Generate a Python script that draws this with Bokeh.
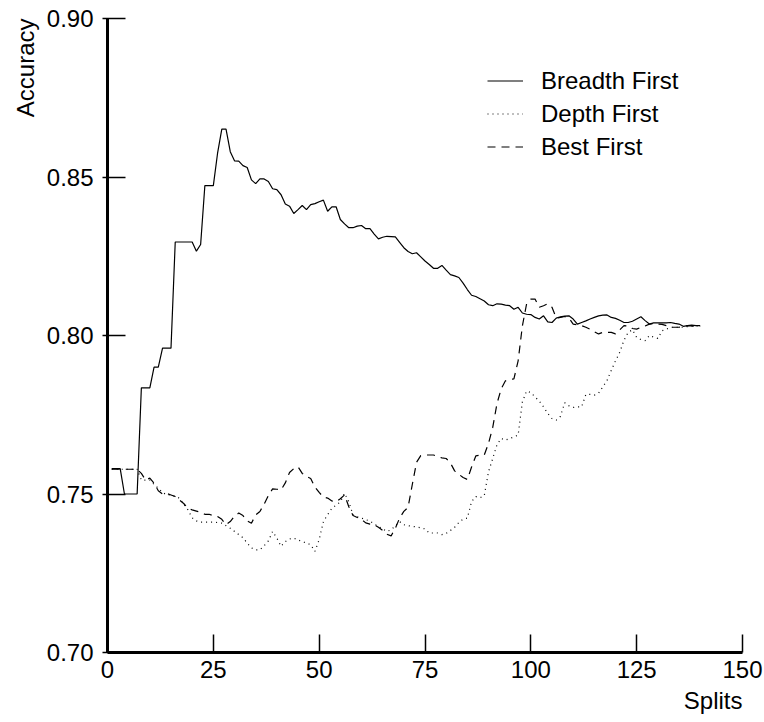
from bokeh.plotting import figure
from bokeh.models import Legend, LegendItem, FixedTicker, Range1d, Title
from bokeh.embed import file_html
from bokeh.resources import INLINE

splits = list(range(1, 141))

breadth_first = [
    0.758, 0.758, 0.758, 0.750, 0.750, 0.750, 0.750, 0.7835, 0.7835, 0.7835,
    0.790, 0.790, 0.796, 0.796, 0.796, 0.8295, 0.8295, 0.8295, 0.8295, 0.8295,
    0.8266, 0.8287, 0.8473, 0.8473, 0.8473, 0.8575, 0.8651, 0.8651, 0.858, 0.8551,
    0.855, 0.8536, 0.853, 0.8491, 0.8479, 0.8494, 0.8494, 0.8486, 0.8463, 0.846,
    0.8444, 0.8415, 0.8408, 0.8385, 0.8397, 0.841, 0.8397, 0.8413, 0.8416, 0.8422,
    0.8427, 0.8392, 0.8406, 0.8406, 0.8366, 0.8352, 0.834, 0.834, 0.8345, 0.8347,
    0.8337, 0.8337, 0.832, 0.8305, 0.831, 0.8313, 0.8312, 0.8311, 0.8294, 0.8277,
    0.8265, 0.8258, 0.8261, 0.8248, 0.8235, 0.8224, 0.8212, 0.8212, 0.8221, 0.8206,
    0.8192, 0.8188, 0.8183, 0.8165, 0.8145, 0.8127, 0.8123, 0.8116, 0.8109, 0.8097,
    0.8094, 0.810, 0.8099, 0.8096, 0.8094, 0.8083, 0.8089, 0.8071, 0.8067, 0.8066,
    0.8057, 0.8052, 0.8062, 0.8043, 0.8041, 0.8055, 0.8059, 0.8061, 0.8062, 0.8052,
    0.8036, 0.8041, 0.8046, 0.8052, 0.8057, 0.8062, 0.8064, 0.8065, 0.8057, 0.8054,
    0.8048, 0.8041, 0.8041, 0.8045, 0.8052, 0.8059, 0.8047, 0.8036, 0.804, 0.804,
    0.804, 0.804, 0.8041, 0.8038, 0.8036, 0.8029, 0.8031, 0.8033, 0.8031, 0.8031,
]

depth_first = [
    0.7578, 0.7578, 0.7578, 0.7578, 0.7578, 0.7578, 0.7578, 0.7544, 0.7544, 0.7544,
    0.753, 0.7518, 0.7505, 0.7497, 0.7497, 0.7492, 0.7487, 0.7468, 0.745, 0.7425,
    0.7415, 0.7411, 0.7411, 0.7411, 0.7411, 0.741, 0.7408, 0.74, 0.7392, 0.7382,
    0.7372, 0.7362, 0.7345, 0.733, 0.7324, 0.7324, 0.7337, 0.7352, 0.7382, 0.7361,
    0.7335, 0.735, 0.7358, 0.7361, 0.7355, 0.735, 0.7345, 0.734, 0.7319, 0.7356,
    0.7413, 0.7435, 0.7455, 0.7465, 0.7475, 0.7502, 0.7476, 0.7434, 0.7428, 0.7424,
    0.7419, 0.7415, 0.7405, 0.7398, 0.739, 0.7382, 0.7387, 0.74, 0.7413, 0.7403,
    0.74, 0.7398, 0.7396, 0.7393, 0.739, 0.7377, 0.7377, 0.7377, 0.7372, 0.7376,
    0.7385, 0.7395, 0.741, 0.7421, 0.7424, 0.7476, 0.7492, 0.7488, 0.7495, 0.757,
    0.7612, 0.7655, 0.7675, 0.767, 0.7675, 0.768, 0.7686, 0.779, 0.7825, 0.782,
    0.7806, 0.7793, 0.7775, 0.7754, 0.7738, 0.7733, 0.7745, 0.7788, 0.7778, 0.7773,
    0.7775, 0.7775, 0.7814, 0.7814, 0.7812, 0.7818, 0.7838, 0.7858, 0.789, 0.792,
    0.7947, 0.7985, 0.801, 0.8018, 0.7994, 0.7987, 0.7984, 0.80, 0.7995, 0.7991,
    0.8015, 0.802, 0.8026, 0.8026, 0.8026, 0.8026, 0.8028, 0.8029, 0.803, 0.803,
]

best_first = [
    0.7578, 0.7578, 0.7578, 0.7578, 0.7578, 0.7578, 0.7578, 0.7565, 0.7544, 0.755,
    0.7534, 0.751, 0.75, 0.7502, 0.7497, 0.7492, 0.7481, 0.747, 0.7455, 0.745,
    0.7446, 0.7442, 0.7436, 0.7436, 0.7432, 0.7429, 0.742, 0.7403, 0.7413, 0.743,
    0.744, 0.7432, 0.7415, 0.7408, 0.7434, 0.7445, 0.7468, 0.7495, 0.7516, 0.7515,
    0.7513, 0.7535, 0.7568, 0.758, 0.7586, 0.7565, 0.7555, 0.7549, 0.7522, 0.7505,
    0.749, 0.7487, 0.7478, 0.7475, 0.7485, 0.7497, 0.746, 0.7432, 0.7426, 0.742,
    0.7409, 0.7405, 0.7403, 0.7395, 0.7385, 0.7373, 0.7368, 0.7392, 0.7424, 0.7445,
    0.7458, 0.753, 0.76, 0.7621, 0.7623, 0.7623, 0.7623, 0.7618, 0.7614, 0.7612,
    0.7598, 0.7573, 0.7562, 0.7552, 0.7546, 0.7585, 0.762, 0.7623, 0.7623, 0.766,
    0.771, 0.7785, 0.7832, 0.7857, 0.7861, 0.7863, 0.792, 0.803, 0.81, 0.8115,
    0.8115, 0.8089, 0.8094, 0.81, 0.8089, 0.8055, 0.8057, 0.806, 0.8055, 0.8036,
    0.8034, 0.8031, 0.8026, 0.802, 0.8012, 0.8005, 0.801, 0.801, 0.801, 0.8005,
    0.8018, 0.8031, 0.803, 0.8022, 0.802, 0.8026, 0.803, 0.8036, 0.8038, 0.8036,
    0.8035, 0.8031, 0.8026, 0.8026, 0.8026, 0.8028, 0.8031, 0.803, 0.8029, 0.8029,
]

x_ticks = [0, 25, 50, 75, 100, 125, 150]
y_ticks = [0.70, 0.75, 0.80, 0.85, 0.90]
y_tick_labels = {0.70: "0.70", 0.75: "0.75", 0.80: "0.80", 0.85: "0.85", 0.90: "0.90"}

FONT = "Liberation Sans"
FS = "24px"

p = figure(width=764, height=722, output_backend="svg", toolbar_location=None,
           x_range=Range1d(0, 150), y_range=Range1d(0.70, 0.90),
           min_border_left=107, min_border_right=22, min_border_top=18,
           min_border_bottom=70)
p.outline_line_color = None
p.xgrid.visible = False
p.ygrid.visible = False
p.background_fill_color = "white"

for ax in (p.xaxis[0], p.yaxis[0]):
    ax.axis_line_width = 3
    ax.axis_line_color = "black"
    ax.major_tick_line_width = 1.5
    ax.major_tick_line_color = "black"
    ax.minor_tick_line_color = None
    ax.major_label_text_font = FONT
    ax.major_label_text_font_size = FS
    ax.major_label_text_color = "black"

p.xaxis[0].ticker = FixedTicker(ticks=x_ticks)
p.xaxis[0].major_tick_in = 18
p.xaxis[0].major_tick_out = 0
p.xaxis[0].major_label_standoff = 8

p.yaxis[0].ticker = FixedTicker(ticks=y_ticks)
p.yaxis[0].major_label_overrides = y_tick_labels
p.yaxis[0].major_tick_in = 18
p.yaxis[0].major_tick_out = 5
p.yaxis[0].major_label_standoff = 9

r1 = p.line(splits, breadth_first, line_color="black", line_width=1.2)
r2 = p.line(splits, depth_first, line_color="black", line_width=1.2, line_dash="1 4")
r3 = p.line(splits, best_first, line_color="black", line_width=1.2, line_dash="8 6")

legend = Legend(items=[LegendItem(label="Breadth First", renderers=[r1]),
                       LegendItem(label="Depth First", renderers=[r2]),
                       LegendItem(label="Best First", renderers=[r3])],
                location=(380, 489), padding=0, margin=0, spacing=0,
                glyph_width=36, glyph_height=33, label_height=33,
                label_standoff=18, border_line_color=None,
                background_fill_alpha=0,
                label_text_font=FONT, label_text_font_size=FS,
                label_text_color="black")
p.add_layout(legend)

p.add_layout(Title(text="Accuracy", align="right", text_font=FONT,
                   text_font_size=FS, text_font_style="normal",
                   text_color="black", standoff=10, offset=0), "left")
p.add_layout(Title(text="Splits", align="right", text_font=FONT,
                   text_font_size=FS, text_font_style="normal",
                   text_color="black", standoff=8, offset=0), "below")

open("out.html", "w").write(file_html(p, INLINE))
